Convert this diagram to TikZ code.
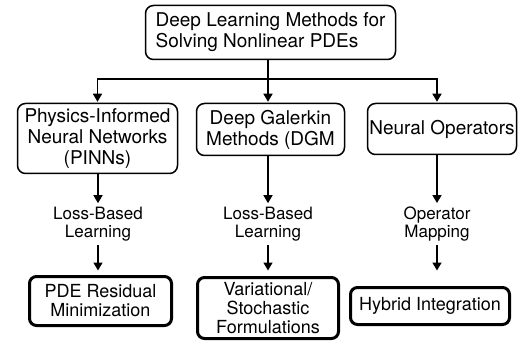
\documentclass[tikz,border=0pt]{standalone}
\usepackage{fontspec}
\setmainfont{TeX Gyre Heros}
\usetikzlibrary{arrows.meta}

\begin{document}
\begin{tikzpicture}[x=1pt, y=-1pt, >={Triangle[length=8pt,width=9pt]}, line width=1.5pt,
  box/.style={draw, rounded corners=8pt, align=center, inner sep=0pt, font=\fontsize{19}{21}\selectfont},
  outbox/.style={draw, line width=3pt, rounded corners=7pt, align=center, inner sep=0pt, font=\fontsize{18}{19}\selectfont},
  lbl/.style={align=center, inner sep=3pt, font=\fontsize{17}{18}\selectfont}]
\useasboundingbox (0,0) rectangle (523,345);
% root of the tree
\node[box, align=left, minimum width=250pt, minimum height=54pt] (root) at (270.5,32.5) {Deep Learning Methods for\\Solving Nonlinear PDEs};
\coordinate (bus) at (268,79);
% the three families
\node[box, minimum width=160pt, minimum height=70pt] (pinn) at (97.5,138.5) {Physics-Informed\\Neural Networks\\(PINNs)};
\node[box, minimum width=148pt, minimum height=52pt] (dgm) at (270.5,129.5) {Deep Galerkin\\Methods (DGM};
\node[box, minimum width=149pt, minimum height=51pt] (neur) at (442,129) {Neural Operators};
% what each one does
\node[lbl] (loss1) at (98,224) {Loss-Based\\Learning};
\node[lbl] (loss2) at (268,224) {Loss-Based\\Learning};
\node[lbl] (opmap) at (437,224) {Operator\\Mapping};
% outcomes
\node[outbox, minimum width=142pt, minimum height=49pt] (resid) at (100.5,301) {PDE Residual\\Minimization};
\node[outbox, minimum width=141pt, minimum height=61pt] (varia) at (268,308) {Variational/\\Stochastic\\Formulations};
\node[outbox, minimum width=159pt, minimum height=37pt] (hybr) at (430,306) {Hybrid Integration};
% connectors
\draw (root.south -| bus) -- (bus);
\draw[->, shorten >=1pt] (bus) -| (pinn.north);
\draw[->, shorten >=1pt] (bus) -- (bus |- dgm.north);
\draw[->, shorten >=1pt] (bus) -| (neur.north -| opmap);
\draw[->] (pinn.south -| loss1) -- (loss1);
\draw[->] (dgm.south -| loss2) -- (loss2);
\draw[->] (neur.south -| opmap) -- (opmap);
\draw[->, shorten >=4.5pt] (loss1) -- (loss1 |- resid.north);
\draw[->, shorten >=5.5pt] (loss2) -- (loss2 |- varia.north);
\draw[->, shorten >=15.5pt] (opmap) -- (opmap |- hybr.north);
\end{tikzpicture}
\end{document}
